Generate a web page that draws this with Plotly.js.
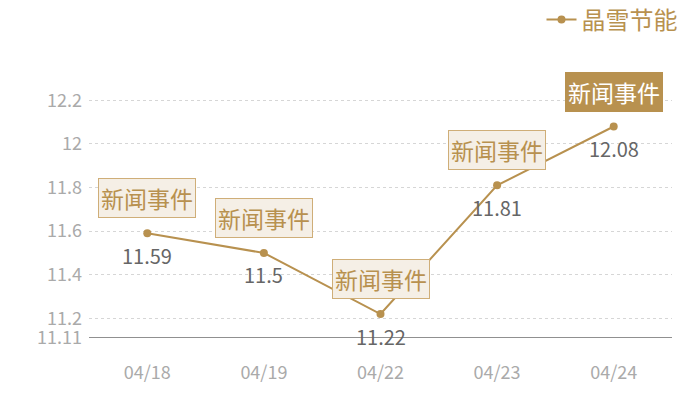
<!DOCTYPE html>
<html><head><meta charset="utf-8">
<script src="https://cdn.plot.ly/plotly-3.0.1.min.js"></script>
<style>body{margin:0;}#c{width:700px;height:400px;}</style>
</head><body><div id="c"></div>
<script>
const categories = ['04/18','04/19','04/22','04/23','04/24'];
const values = [11.59, 11.5, 11.22, 11.81, 12.08];
const seriesName = '晶雪节能';
const eventLabels = ['新闻事件','新闻事件','新闻事件','新闻事件','新闻事件'];
const highlighted = [false,false,false,false,true];
const yTicks = [11.11, 11.2, 11.4, 11.6, 11.8, 12, 12.2];

const gold = '#b8914f';
const font = '"Noto Sans CJK SC", "Noto Sans", sans-serif';

const trace = {
  x: categories, y: values, type: 'scatter', mode: 'lines+markers',
  name: seriesName,
  line: {color: gold, width: 2},
  marker: {color: gold, size: 8},
  cliponaxis: false
};

const eventAnn = categories.map((c,i)=>({
  x: c, y: values[i], xref:'x', yref:'y', text: eventLabels[i],
  showarrow: false, yshift: 35,
  font: {family: font, size: 23, color: highlighted[i] ? '#fff' : gold},
  bgcolor: highlighted[i] ? gold : '#f5efe6',
  bordercolor: highlighted[i] ? gold : '#cfae78', borderwidth: 1, borderpad: 2
}));
const valueAnn = categories.map((c,i)=>({
  x: c, y: values[i], xref:'x', yref:'y', text: String(values[i]),
  showarrow: false, yshift: -22,
  font: {family: font, size: 20, color: '#666'}
}));

const layout = {
  width: 700, height: 400,
  margin: {l: 89, r: 28, t: 60, b: 62, autoexpand: false},
  paper_bgcolor: '#fff', plot_bgcolor: '#fff',
  font: {family: font},
  showlegend: true,
  legend: {xref:'container', yref:'container', x: 0.975, xanchor:'right', y: 0.95, yanchor:'middle',
    font:{family: font, size: 24, color: gold}, bgcolor:'rgba(0,0,0,0)', itemwidth: 30},
  xaxis: {type:'category', range:[-0.5, 4.5], showgrid:false, zeroline:false, showline:false,
    ticks:'', tickfont:{family: font, size: 18, color:'#aaa'}, ticklabelstandoff: 22},
  yaxis: {range:[11.11, 12.385], tickvals: yTicks, ticktext: yTicks.map(String),
    showgrid:true, gridcolor:'#d6d6d6', griddash:'dot', gridwidth:1,
    zeroline:false, showline:false, ticks:'', ticklabelstandoff: 6,
    tickfont:{family: font, size: 18, color:'#aaa'}},
  shapes: [{type:'line', layer:'above', xref:'paper', yref:'y', x0:0, x1:1, y0:11.11, y1:11.11, line:{color:'#222', width:1.2}}],
  annotations: eventAnn.concat(valueAnn)
};
Plotly.newPlot('c', [trace], layout, {displayModeBar:false, staticPlot:true});
</script></body></html>
